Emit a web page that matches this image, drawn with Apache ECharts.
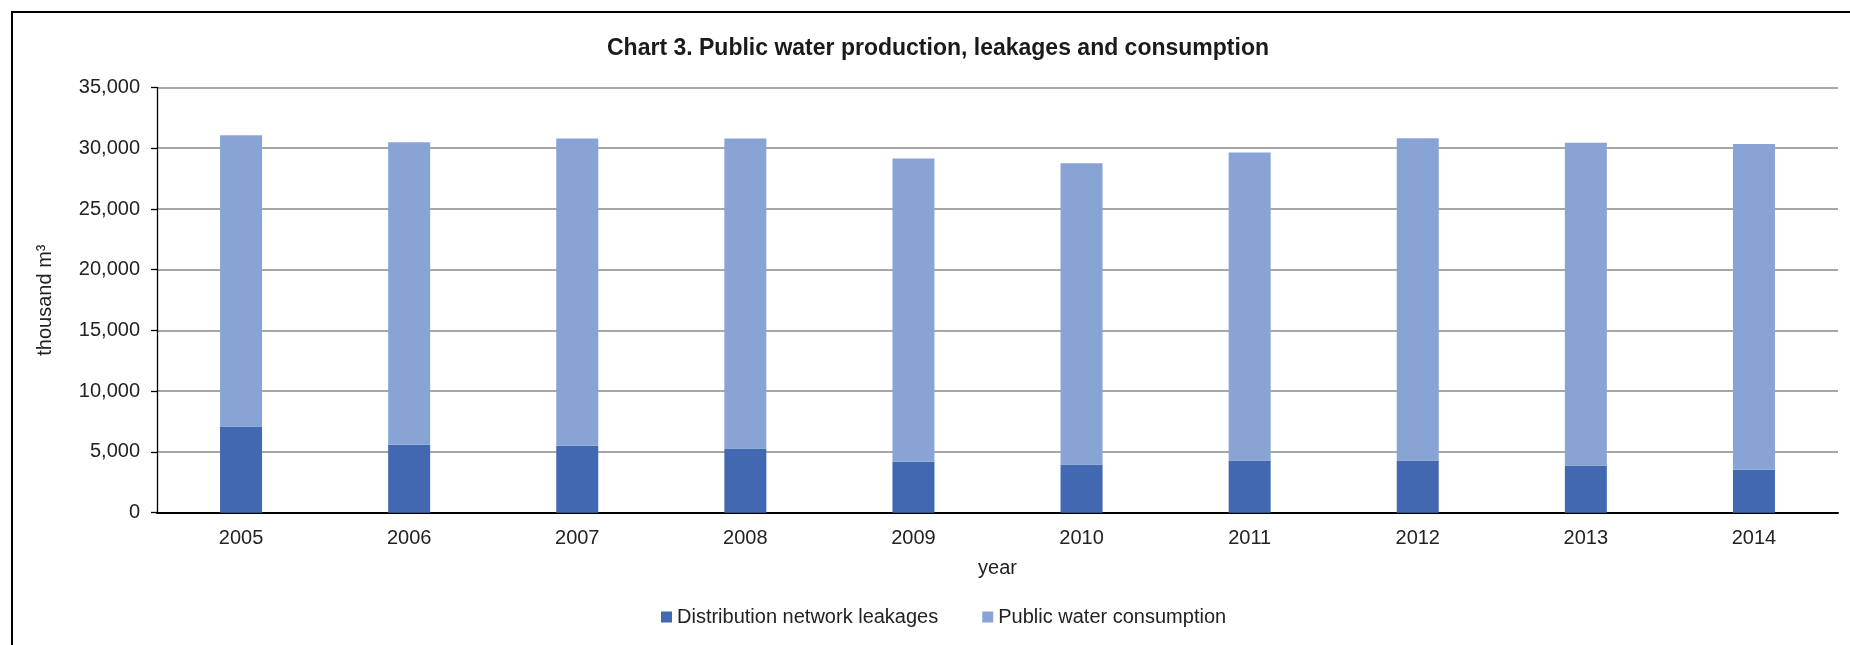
<!DOCTYPE html>
<html>
<head>
<meta charset="utf-8">
<title>Public water production, leakages and consumption</title>
<script src="https://cdn.jsdelivr.net/npm/echarts@6/dist/echarts.min.js"></script>
<style>
  html, body { margin: 0; padding: 0; background: #fff; }
  #chart { width: 1850px; height: 645px; }
</style>
</head>
<body>
<div id="chart"></div>
<script>
// Years on the category axis
const years = ['2005', '2006', '2007', '2008', '2009', '2010', '2011', '2012', '2013', '2014'];

// Water lost in the distribution network, thousand m3
const leakages = [7100, 5590, 5510, 5280, 4190, 3960, 4290, 4290, 3880, 3530];

// Water consumed from the public supply, thousand m3
const consumption = [23960, 24900, 25290, 25520, 24960, 24800, 25350, 26530, 26580, 26820];

// Value axis range and step
const yMin = 0;
const yMax = 35000;
const yStep = 5000;

const FONT = "'Liberation Sans', Arial, sans-serif";
const TEXT = '#222222';

const chart = echarts.init(document.getElementById('chart'), null, { renderer: 'canvas' });

chart.setOption({
  backgroundColor: '#ffffff',
  animation: false,
  textStyle: { fontFamily: FONT },
  title: {
    text: 'Chart 3. Public water production, leakages and consumption',
    left: 938,
    textAlign: 'center',
    top: 37,
    padding: 0,
    textStyle: { fontFamily: FONT, fontSize: 23, fontWeight: 'bold', color: '#1a1a1a' }
  },
  graphic: [{
    // frame around the chart
    type: 'rect',
    silent: true,
    shape: { x: 12, y: 12, width: 1900, height: 700 },
    style: { fill: 'none', stroke: '#000000', lineWidth: 2 }
  }],
  legend: {
    left: 661,
    top: 607,
    padding: 0,
    itemWidth: 11,
    itemHeight: 11,
    itemGap: 44,
    icon: 'rect',
    textStyle: { fontFamily: FONT, fontSize: 20, color: TEXT },
    data: ['Distribution network leakages', 'Public water consumption']
  },
  grid: {
    left: 157,
    right: 12,
    top: 87.5,
    bottom: 132.3,
    containLabel: false
  },
  xAxis: {
    type: 'category',
    data: years,
    name: 'year',
    nameLocation: 'middle',
    nameGap: 46,
    nameTextStyle: { fontFamily: FONT, fontSize: 20, color: TEXT },
    axisLine: { show: true, lineStyle: { color: '#000000', width: 2 } },
    axisTick: { show: false },
    axisLabel: { margin: 16, fontFamily: FONT, fontSize: 20, color: TEXT },
    splitLine: { show: false }
  },
  yAxis: {
    type: 'value',
    min: yMin,
    max: yMax,
    interval: yStep,
    name: 'thousand m³',
    nameLocation: 'middle',
    nameGap: 102,
    nameRotate: 90,
    nameTextStyle: { fontFamily: FONT, fontSize: 20, color: TEXT },
    axisLine: { show: true, lineStyle: { color: '#000000', width: 1.3 } },
    axisTick: { show: true, length: 6, lineStyle: { color: '#000000', width: 1.3 } },
    axisLabel: {
      margin: 17,
      fontFamily: FONT,
      fontSize: 20,
      color: TEXT,
      formatter: v => v.toLocaleString('en-US')
    },
    splitLine: { show: true, lineStyle: { color: '#8a8a8a', width: 1.5 } }
  },
  series: [
    {
      name: 'Distribution network leakages',
      type: 'bar',
      stack: 'production',
      barWidth: 42,
      itemStyle: { color: '#4168B0' },
      data: leakages
    },
    {
      name: 'Public water consumption',
      type: 'bar',
      stack: 'production',
      barWidth: 42,
      itemStyle: { color: '#87A4D5' },
      data: consumption
    }
  ]
});
</script>
</body>
</html>
